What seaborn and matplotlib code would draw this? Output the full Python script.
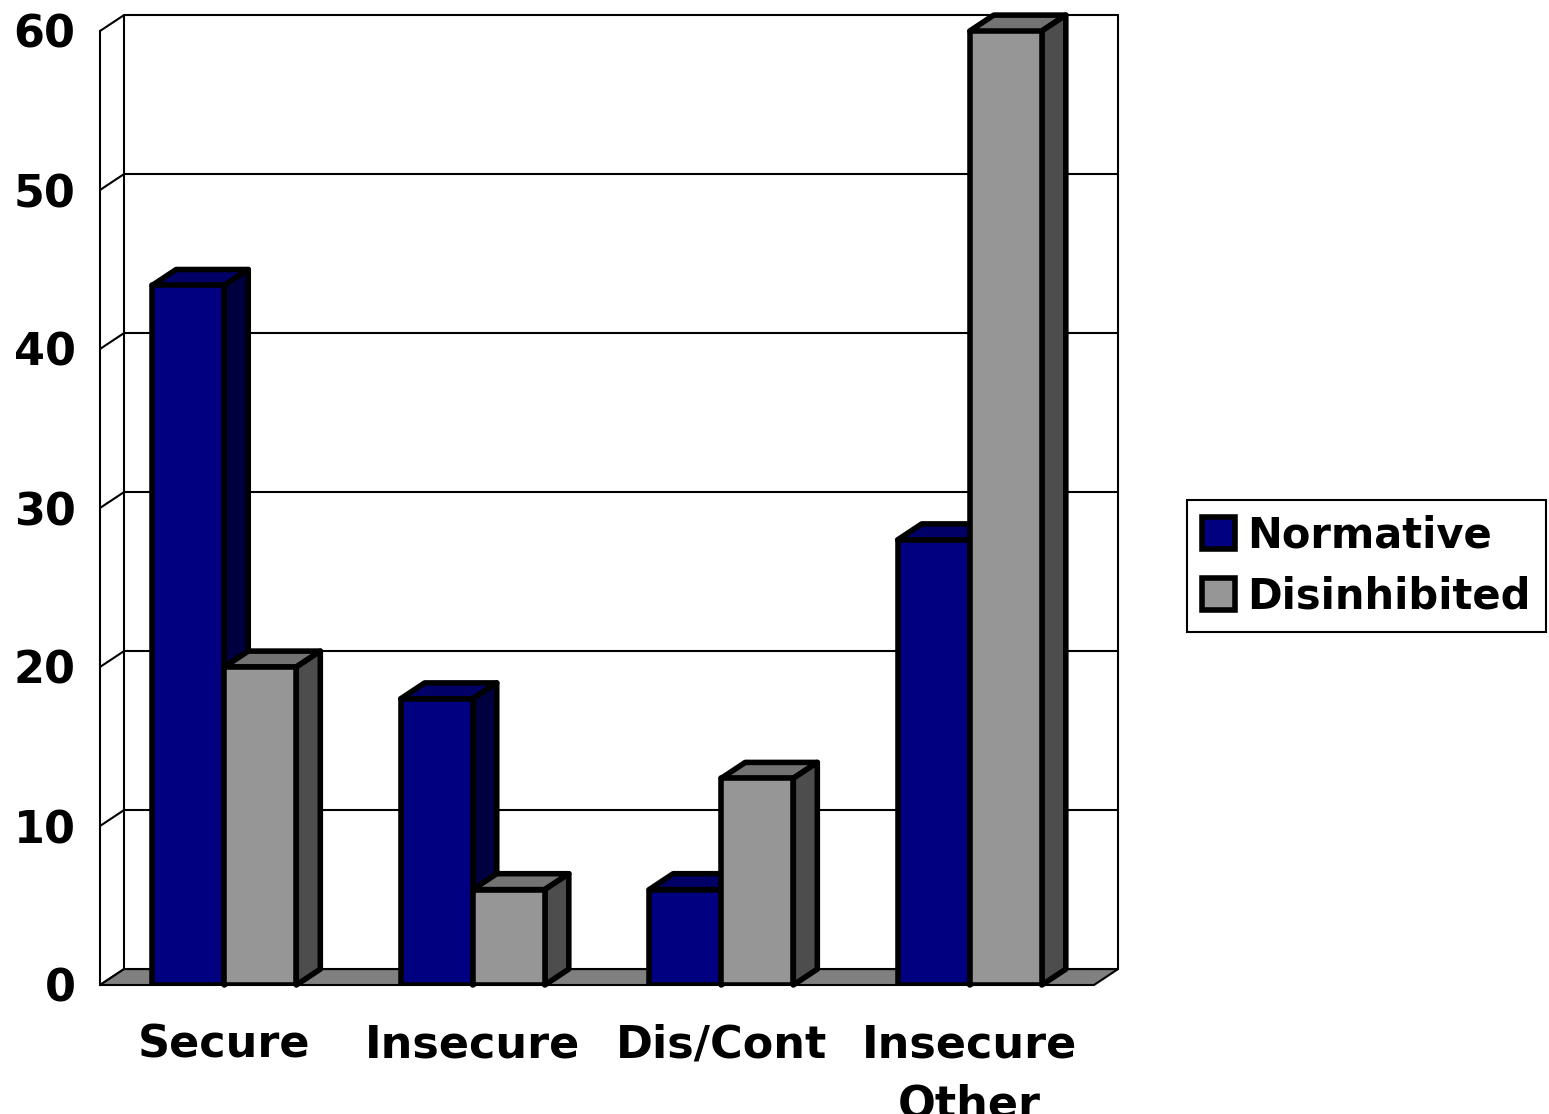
import matplotlib
matplotlib.use("Agg")
import matplotlib.pyplot as plt
from matplotlib.patches import Polygon, Patch
import seaborn as sns
import pandas as pd

categories = ["Secure", "Insecure", "Dis/Cont", "Insecure\nOther"]
series = ["Normative", "Disinhibited"]
normative = [44, 18, 6, 28]
disinhibited = [20, 6, 13, 60]

front_colors = {"Normative": "#000080", "Disinhibited": "#969696"}
top_colors = {"Normative": "#000066", "Disinhibited": "#737373"}
side_colors = {"Normative": "#000040", "Disinhibited": "#4d4d4d"}

df = pd.DataFrame({
    "category": categories * 2,
    "series": [series[0]] * 4 + [series[1]] * 4,
    "value": normative + disinhibited,
})

sns.set_style("white")
plt.rcParams["font.family"] = ["DejaVu Sans"]
plt.rcParams["font.weight"] = "bold"
plt.rcParams["text.color"] = "black"
plt.rcParams["xtick.color"] = "black"
plt.rcParams["ytick.color"] = "black"
plt.rcParams["axes.labelcolor"] = "black"

FS = 32
LEG_FS = 30
EDGE = 4.0

W, H = 1549, 1114
fig = plt.figure(figsize=(W / 100, H / 100), dpi=100)
ax = fig.add_axes([100 / W, (H - 985) / H, 994 / W, 954 / H])

sns.barplot(data=df, x="category", y="value", hue="series", order=categories,
            hue_order=series, palette=front_colors, width=0.58,
            edgecolor="black", linewidth=EDGE, saturation=1, legend=False, ax=ax)

ax.set_xlim(-0.5, 3.5)
ax.set_ylim(0, 60)

# depth of the 3-D box in data units
dx = 24 / 248.5
dy = 1.0

# back wall, side wall and floor
grid_kw = dict(color="black", lw=1.5, clip_on=False, zorder=0.5)
for v in range(0, 61, 10):
    ax.plot([-0.5 + dx, 3.5 + dx], [v + dy, v + dy], **grid_kw)
    ax.plot([-0.5, -0.5 + dx], [v, v + dy], **grid_kw)
ax.plot([-0.5 + dx, -0.5 + dx], [dy, 60 + dy], **grid_kw)
ax.plot([3.5 + dx, 3.5 + dx], [dy, 60 + dy], **grid_kw)

floor = Polygon([(-0.5, 0), (3.5, 0), (3.5 + dx, dy), (-0.5 + dx, dy)],
                closed=True, facecolor="#808080", edgecolor="black", lw=1.5,
                clip_on=False, zorder=1)
ax.add_patch(floor)

# top and side faces of each bar
for k, (name, cont) in enumerate(zip(series, ax.containers)):
    base_z = 3 + 2 * k
    for bar in cont:
        bar.set_zorder(base_z)
        bar.set_joinstyle("round")
        x0 = bar.get_x()
        x1 = x0 + bar.get_width()
        v = bar.get_height()
        top = Polygon([(x0, v), (x0 + dx, v + dy), (x1 + dx, v + dy), (x1, v)],
                      closed=True, facecolor=top_colors[name], edgecolor="black",
                      lw=EDGE, joinstyle="round", clip_on=False, zorder=base_z - 0.1)
        side = Polygon([(x1, 0), (x1, v), (x1 + dx, v + dy), (x1 + dx, dy)],
                       closed=True, facecolor=side_colors[name], edgecolor="black",
                       lw=EDGE, joinstyle="round", clip_on=False, zorder=base_z - 0.1)
        ax.add_patch(top)
        ax.add_patch(side)

for s in ["top", "right", "bottom"]:
    ax.spines[s].set_visible(False)
ax.spines["left"].set_linewidth(1.5)
ax.spines["left"].set_color("black")
ax.spines["left"].set_zorder(2)

ax.set_yticks(range(0, 61, 10))
ax.tick_params(axis="y", direction="out", length=11.5, width=1.5, pad=6,
               labelsize=FS)
for t in ax.get_yticklabels():
    t.set_fontweight("bold")

ax.set_xticks([-0.5, 0.5, 1.5, 2.5, 3.5])
ax.set_xticklabels([])
ax.set_xticks(range(len(categories)), minor=True)
ax.set_xticklabels(categories, minor=True, fontsize=FS, fontweight="bold",
                   linespacing=1.5)
ax.tick_params(axis="x", which="major", direction="out", length=11, width=1.5)
ax.tick_params(axis="x", which="minor", length=0, pad=28)
ax.set_xlabel("")
ax.set_ylabel("")

handles = [Patch(facecolor=front_colors[s], edgecolor="black", lw=EDGE) for s in series]
leg = fig.legend(handles, series, loc="upper left",
                 bbox_to_anchor=(1187 / W, 1 - 500 / H), frameon=True,
                 fancybox=False, framealpha=1, edgecolor="black",
                 prop={"size": LEG_FS, "weight": "bold"}, handlelength=0.8,
                 handleheight=0.8, handletextpad=0.3, borderpad=0.35,
                 labelspacing=0.45, borderaxespad=0)
leg.get_frame().set_linewidth(1.5)

fig.savefig("out.png", dpi=100, facecolor="white")
